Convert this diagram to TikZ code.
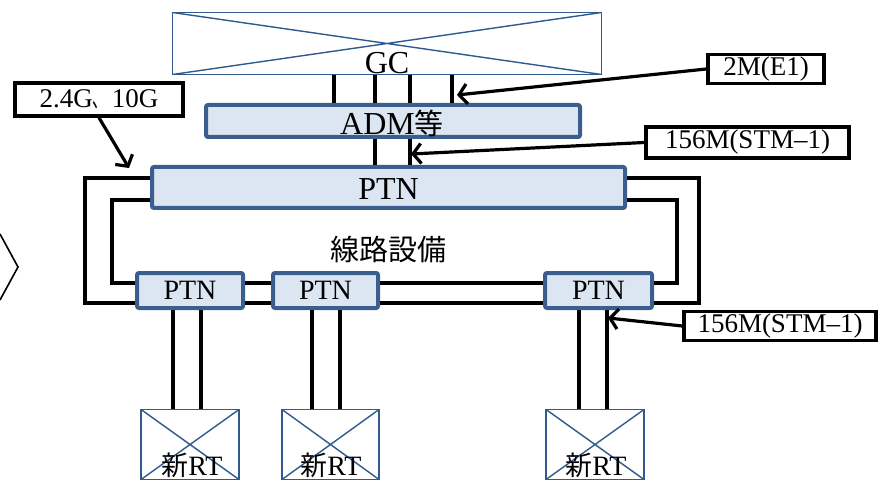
\documentclass[tikz,border=0pt]{standalone}
\usepackage{fontspec}
\usepackage{graphicx}
\setmainfont{Liberation Serif}
\newfontfamily\cjk{Noto Sans CJK JP}
\usetikzlibrary{arrows.meta}
\definecolor{xblue}{HTML}{2E5A8E}
\definecolor{pblue}{HTML}{3A5F8E}
\definecolor{pfill}{HTML}{DCE6F2}
\tikzset{
  xbox/.style={draw=xblue, line width=1.4pt, inner sep=0pt,
    path picture={\draw[xblue, line width=1.4pt]
      (path picture bounding box.north west) -- (path picture bounding box.south east)
      (path picture bounding box.south west) -- (path picture bounding box.north east);}},
  ptnbox/.style={draw=pblue, fill=pfill, line width=4pt, rounded corners=2pt, inner sep=0pt},
  lblbox/.style={draw=black, line width=3.5pt, fill=white, inner sep=0pt, font=\fontsize{27}{30}\selectfont},
  wire/.style={draw=black, line width=3.2pt},
  callout/.style={draw=black, line width=3.2pt, -{Straight Barb[length=8pt,width=20pt]}},
  big/.style={font=\fontsize{32}{34}\selectfont},
  mid/.style={font=\fontsize{28}{30}\selectfont},
}
\begin{document}
\begin{tikzpicture}[x=1pt,y=-1pt]
\useasboundingbox (0,0) rectangle (878,481);
% chevron
\draw[line width=1.6pt] (0,234) -- (18,267) -- (0,300);
% GC
\node[xbox, minimum width=429pt, minimum height=62pt] (gc) at (387,43.5) {};
\node[big, anchor=base] (gct) at (387,74) {GC};
% ADM
\node[ptnbox, minimum width=374pt, minimum height=32pt] (adm) at (393,121) {};
\node[big] (admt) at (392,123) {ADM{\cjk\fontsize{29}{30}\selectfont 等}};
% big PTN
\node[ptnbox, minimum width=473pt, minimum height=41pt] (pbig) at (388.5,187.5) {};
\node[big] (pbigt) at (388.5,189) {PTN};
% small PTNs
\node[ptnbox, minimum width=106pt, minimum height=35pt] (p1) at (190,290.5) {};
\node[ptnbox, minimum width=105pt, minimum height=35pt] (p2) at (325.5,290.5) {};
\node[ptnbox, minimum width=107pt, minimum height=35pt] (p3) at (598.5,290.5) {};
\node[mid] at (p1) {PTN};
\node[mid] at (p2) {PTN};
\node[mid] at (p3) {PTN};
% RT boxes
\node[xbox, minimum width=98pt, minimum height=70pt] (rt1) at (190,444.5) {};
\node[xbox, minimum width=97pt, minimum height=70pt] (rt2) at (330.5,444.5) {};
\node[xbox, minimum width=98pt, minimum height=70pt] (rt3) at (595,444.5) {};
\node[mid, anchor=base] at (192,475) {{\cjk\fontsize{27}{30}\selectfont 新}RT};
\node[mid, anchor=base] at (331,475) {{\cjk\fontsize{27}{30}\selectfont 新}RT};
\node[mid, anchor=base] at (596,475) {{\cjk\fontsize{27}{30}\selectfont 新}RT};
% ring label
\node[font=\cjk\fontsize{29}{30}\selectfont] (ring) at (388,249) {線路設備};
% vertical coordinates
\coordinate (a1) at (334,0);
\coordinate (a2) at (375,0);
\coordinate (a3) at (410,0);
\coordinate (a4) at (452,0);
\coordinate (b1) at (173,0);
\coordinate (b2) at (201,0);
\coordinate (b3) at (312,0);
\coordinate (b4) at (340,0);
\coordinate (b5) at (579,0);
\coordinate (b6) at (607,0);
% GC - ADM
\foreach \c in {a1,a2,a3,a4} \draw[wire] (gc.south -| \c) -- (adm.north -| \c);
% ADM - PTN
\foreach \c in {a2,a3} \draw[wire] (adm.south -| \c) -- (pbig.north -| \c);
% PTN - RT
\draw[wire] (p1.south -| b1) -- (rt1.north -| b1);
\draw[wire] (p1.south -| b2) -- (rt1.north -| b2);
\draw[wire] (p2.south -| b3) -- (rt2.north -| b3);
\draw[wire] (p2.south -| b4) -- (rt2.north -| b4);
\draw[wire] (p3.south -| b5) -- (rt3.north -| b5);
\draw[wire] (p3.south -| b6) -- (rt3.north -| b6);
% ring
\coordinate (yo) at (0,178);
\coordinate (yi) at (0,200);
\coordinate (zi) at (0,283);
\coordinate (zo) at (0,303);
\draw[wire] (pbig.west |- yo) -| (85,303) -- (p1.west |- zo);
\draw[wire] (pbig.west |- yi) -| (112,283) -- (p1.west |- zi);
\draw[wire] (p1.east |- zi) -- (p2.west |- zi);
\draw[wire] (p1.east |- zo) -- (p2.west |- zo);
\draw[wire] (p2.east |- zi) -- (p3.west |- zi);
\draw[wire] (p2.east |- zo) -- (p3.west |- zo);
\draw[wire] (p3.east |- zi) -| (677,200) -- (pbig.east |- yi);
\draw[wire] (p3.east |- zo) -| (699,178) -- (pbig.east |- yo);
% labels
\node[lblbox, minimum width=168pt, minimum height=33pt] (l24) at (99,99.5) {2.4G\scalebox{0.55}[1]{\cjk 、}\kern0.15em 10G};
\node[lblbox, minimum width=116pt, minimum height=29pt] (l2m) at (766,69) {2M(E1)};
\node[lblbox, minimum width=203pt, minimum height=31pt] (l156a) at (747.5,142.5) {156M(STM\textendash1)};
\node[lblbox, minimum width=192pt, minimum height=29pt] (l156b) at (780,326) {156M(STM\textendash1)};
\coordinate (t24) at (129,168);
\coordinate (t2m) at (457,95);
\coordinate (t156a) at (411,154);
\coordinate (t156b) at (608,318);
\draw[callout] (l24.south) -- (t24);
\draw[callout] (l2m.west) -- (t2m);
\draw[callout] (l156a.west) -- (t156a);
\draw[callout] (l156b.west) -- (t156b);
\end{tikzpicture}
\end{document}
